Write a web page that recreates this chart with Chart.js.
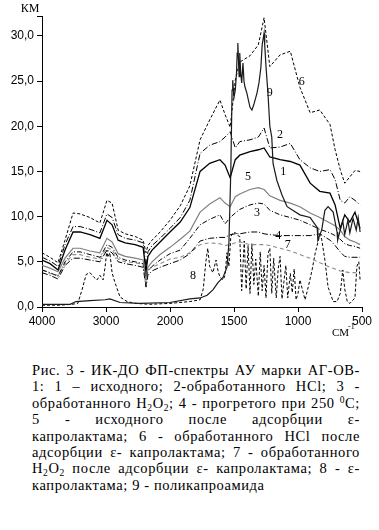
<!DOCTYPE html>
<html>
<head>
<meta charset="utf-8">
<script src="https://cdn.jsdelivr.net/npm/chart.js@4.4.0/dist/chart.umd.min.js"></script>
<style>
  body { margin: 0; background: #fff; }
  #wrap { position: relative; width: 379px; height: 530px; }
  canvas { display: block; }
  #caption {
    position: absolute; left: 32px; top: 362px; width: 328px;
    font-family: 'Liberation Serif', 'Times New Roman', serif;
    font-size: 14.5px; letter-spacing: 0.6px; color: #000;
  }
  .ln { display: flex; justify-content: space-between; height: 16.4px; line-height: 16.4px; white-space: nowrap; }
  .ln.last { display: block; }
  sub { font-size: 9.5px; line-height: 0; vertical-align: -3px; }
  sup { font-size: 9.5px; line-height: 0; vertical-align: 5px; }
</style>
</head>
<body>
<div id="wrap">
  <canvas id="spectra" width="379" height="345"></canvas>
  <div id="caption"></div>
</div>
<script>
// wavenumber grid (cm-1) shared by the smooth spectra 1-7
var wn = [4000, 3875, 3750, 3640, 3515, 3405, 3250, 3095, 2985, 2905,
  2810, 2700, 2545, 2420, 2375, 2345, 2280, 2155, 2000, 1920,
  1845, 1765, 1690, 1610, 1570, 1530, 1490, 1455, 1375, 1310,
  1265, 1220, 1140, 1060, 985, 905, 830, 750, 710, 670,
  635, 595, 555, 515];

var km1 = [5.2, 4.8, 4.1, 6.3, 8.3, 8.3, 8.0, 7.6, 9.6, 9.1,
  7.4, 7.1, 6.9, 6.6, 3.9, 5.6, 6.3, 7.2, 8.3, 9.4,
  11.0, 15.0, 15.9, 16.3, 15.7, 14.3, 16.3, 16.8, 17.2, 17.4,
  17.6, 16.6, 16.3, 16.1, 15.7, 13.7, 12.8, 12.6, 11.3, 8.7,
  10.2, 9.4, 10.5, 8.7];
var km2 = [5.5, 5.1, 4.5, 6.9, 8.9, 8.9, 8.6, 8.2, 10.3, 9.9,
  8.0, 7.6, 7.4, 7.1, 4.4, 6.1, 6.8, 7.6, 8.7, 9.9,
  11.8, 17.0, 17.9, 18.3, 18.8, 19.4, 17.6, 18.3, 18.5, 18.8,
  19.8, 17.6, 17.7, 18.1, 16.3, 15.4, 15.0, 15.2, 14.1, 11.8,
  11.5, 12.2, 11.8, 11.3];
var km3 = [4.1, 3.8, 3.4, 5.0, 6.1, 6.1, 5.8, 5.5, 6.9, 6.6,
  5.5, 5.2, 5.0, 4.8, 2.5, 4.0, 4.5, 5.2, 5.9, 6.3,
  7.6, 9.1, 9.7, 10.2, 9.2, 9.9, 10.4, 10.8, 11.3, 11.5,
  11.4, 10.7, 10.2, 9.9, 9.6, 9.1, 8.6, 8.2, 7.9, 7.5,
  7.0, 6.8, 6.7, 6.5];
var km4 = [3.8, 3.5, 3.1, 4.6, 5.4, 5.4, 5.2, 5.0, 6.3, 6.0,
  5.0, 4.8, 4.6, 4.4, 2.2, 3.5, 4.0, 4.4, 4.8, 5.2,
  5.9, 7.3, 7.6, 7.7, 7.7, 8.0, 8.1, 8.1, 8.3, 8.3,
  8.1, 8.0, 7.9, 7.9, 7.9, 7.9, 8.1, 7.4, 6.8, 6.1,
  5.6, 5.5, 5.5, 5.5];
var km5 = [4.6, 4.3, 3.9, 5.4, 6.5, 6.5, 6.2, 6.0, 7.6, 7.2,
  5.9, 5.6, 5.4, 5.2, 3.0, 4.4, 5.0, 5.8, 6.6, 7.5,
  8.4, 10.5, 11.4, 12.1, 11.5, 11.1, 12.2, 12.5, 13.0, 13.2,
  13.0, 12.3, 11.8, 11.5, 11.1, 10.4, 9.9, 9.3, 9.0, 8.5,
  7.8, 7.4, 7.2, 6.9];
var km6 = [6.0, 5.5, 4.9, 7.4, 10.4, 10.3, 9.9, 9.3, 11.8, 11.5,
  8.5, 8.1, 7.8, 7.4, 6.0, 6.8, 7.4, 8.3, 9.6, 11.2,
  13.4, 18.5, 20.7, 22.9, 21.3, 19.9, 25.1, 27.1, 27.8, 29.0,
  32.0, 26.6, 27.9, 28.3, 24.3, 21.5, 21.8, 20.2, 17.4, 15.2,
  13.7, 14.4, 15.1, 15.0];
var km7 = [4.1, 3.7, 3.5, 4.8, 5.8, 5.8, 5.5, 5.3, 6.6, 6.3,
  5.3, 5.0, 4.9, 4.7, 3.3, 4.1, 4.4, 4.8, 5.3, 5.5,
  6.0, 6.9, 7.1, 7.0, 6.8, 6.9, 7.1, 7.2, 6.9, 6.9,
  6.9, 6.8, 6.5, 6.2, 5.8, 5.4, 4.9, 4.4, 4.2, 4.0,
  3.9, 3.8, 3.8, 3.7];

// e-caprolactam (8), sharp bands
var wn8 = [4000, 3720, 3530, 3440, 3375, 3310, 3250, 3190, 3140, 3095,
  3045, 3015, 2985, 2970, 2940, 2905, 2860, 2780, 2670, 2545,
  2315, 2000, 1845, 1765, 1740, 1720, 1705, 1690, 1665, 1640,
  1625, 1610, 1585, 1570, 1555, 1540, 1525, 1510, 1485, 1470,
  1455, 1440, 1420, 1405, 1390, 1375, 1360, 1345, 1330, 1310,
  1295, 1280, 1265, 1250, 1235, 1220, 1205, 1190, 1170, 1155,
  1140, 1125, 1110, 1095, 1080, 1060, 1045, 1030, 1015, 1000,
  985, 945, 920, 890, 865, 845, 830, 815, 790, 765,
  725, 695, 670, 650, 635, 615, 595, 555, 540, 525,
  515];
var km8 = [0.2, 0.2, 0.3, 0.4, 1.9, 3.6, 3.8, 3.3, 3.0, 3.5,
  3.0, 4.4, 6.3, 5.5, 6.0, 3.8, 2.7, 1.1, 0.6, 0.4,
  0.3, 0.4, 0.6, 0.8, 2.0, 5.0, 6.5, 4.5, 3.8, 5.2,
  4.0, 3.3, 3.0, 3.5, 6.0, 4.5, 7.8, 8.2, 8.2, 7.9,
  7.8, 1.8, 7.3, 2.0, 6.8, 1.5, 7.0, 2.5, 5.3, 1.2,
  6.1, 1.8, 4.6, 1.0, 5.8, 6.5, 1.5, 5.4, 1.0, 4.2,
  5.6, 0.9, 2.8, 4.6, 1.0, 3.7, 1.6, 4.2, 0.8, 1.5,
  3.0, 0.8, 2.2, 4.1, 6.0, 7.1, 8.0, 7.5, 5.2, 2.2,
  0.6, 0.6, 1.5, 4.1, 2.0, 0.6, 0.4, 1.0, 4.5, 5.0,
  3.0];

// polycaproamide (9)
var wn9 = [4000, 3560, 3470, 3250, 3015, 2940, 2780, 2470, 2000, 1845,
  1765, 1710, 1665, 1625, 1585, 1555, 1540, 1525, 1515, 1510,
  1500, 1490, 1480, 1475, 1470, 1460, 1455, 1448, 1440, 1430,
  1422, 1415, 1400, 1375, 1360, 1345, 1320, 1305, 1290, 1280,
  1265, 1260, 1250, 1235, 1220, 1205, 1195, 1165, 1125, 1085,
  985, 905, 850, 845, 815, 790, 765, 725, 695, 690,
  670, 650, 635, 610, 595, 570, 545, 530, 515];
var km9 = [0.3, 0.3, 0.6, 0.7, 0.8, 0.9, 0.5, 0.4, 0.5, 0.9,
  1.0, 1.3, 1.9, 2.7, 3.3, 4.4, 7.0, 15.0, 24.0, 25.1,
  23.2, 24.0, 26.0, 28.1, 29.2, 25.5, 28.1, 26.0, 24.8, 27.0,
  25.0, 24.4, 23.7, 22.1, 21.8, 22.4, 23.7, 24.8, 26.5, 29.0,
  30.3, 29.0, 26.6, 23.7, 20.0, 18.8, 15.9, 14.0, 12.4, 11.1,
  10.2, 9.9, 8.8, 7.4, 8.5, 10.7, 11.1, 10.5, 8.3, 7.4,
  8.5, 9.5, 8.0, 9.6, 8.2, 9.8, 8.5, 9.9, 8.3];

var xTicks = [4000, 3000, 2000, 1500, 1000, 500];
var yTicks = [0, 5, 10, 15, 20, 25, 30];

// curve numbers written on the plot
var curveNames = ['9', '6', '2', '1', '5', '3', '4', '7', '8'];
var nameWn = [1220, 970, 1140, 1115, 1390, 1320, 1155, 1080, 1820];
var nameKm = [23.7, 24.9, 19.0, 15.0, 14.4, 10.4, 7.9, 6.9, 3.5];

var captionLines = [
  'Рис. 3 - ИК-ДО ФП-спектры АУ марки АГ-ОВ-',
  '1: 1 – исходного; 2-обработанного HCl; 3 -',
  'обработанного H<sub>2</sub>O<sub>2</sub>; 4 - прогретого при 250 <sup>0</sup>С;',
  '5 - исходного после адсорбции ε-',
  'капролактама; 6 - обработанного HCl после',
  'адсорбции ε- капролактама; 7 - обработанного',
  'H<sub>2</sub>O<sub>2</sub> после адсорбции ε- капролактама; 8 - ε-',
  'капролактама; 9 - поликапроамида'
];

// the instrument scale is twice as stretched below 2000 cm-1
function toU(w) {
  return w >= 2000 ? (4000 - w) / 1000 : 2 + (2000 - w) / 500;
}
function fromU(u) {
  return u <= 2 ? 4000 - 1000 * u : 2000 - 500 * (u - 2);
}

function points(xs, ys) {
  var out = [];
  for (var i = 0; i < xs.length; i++) {
    out.push({ x: toU(xs[i]), y: ys[i] });
  }
  return out;
}

function line(xs, ys, color, dash, width) {
  return {
    data: points(xs, ys),
    borderColor: color,
    borderDash: dash,
    borderWidth: width,
    pointRadius: 0,
    tension: 0,
    fill: false
  };
}

var textPlugin = {
  id: 'texts',
  afterDatasetsDraw: function(chart) {
    var c = chart.ctx;
    var sx = chart.scales.x, sy = chart.scales.y;
    c.save();
    c.fillStyle = '#000';
    c.font = '12px "Liberation Serif"';
    c.textAlign = 'center';
    c.textBaseline = 'middle';
    for (var i = 0; i < curveNames.length; i++) {
      c.fillText(curveNames[i], sx.getPixelForValue(toU(nameWn[i])), sy.getPixelForValue(nameKm[i]));
    }
    c.textBaseline = 'alphabetic';
    c.font = '12px "Liberation Serif"';
    c.fillText('КМ', 30, 12);
    c.textAlign = 'left';
    c.font = '11px "Liberation Serif"';
    c.fillText('СМ', 332, 336);
    c.font = '8px "Liberation Serif"';
    c.fillText('-1', 348, 329);
    c.restore();
  }
};

new Chart(document.getElementById('spectra'), {
  type: 'line',
  data: {
    datasets: [
      line(wn9, km9, '#1a1a1a', [], 1.2),
      line(wn, km1, '#000', [], 1.3),
      line(wn, km2, '#000', [6, 2, 1, 2], 1),
      line(wn, km6, '#000', [3, 2], 1),
      line(wn, km5, '#808080', [], 1.2),
      line(wn, km3, '#000', [5, 2, 1, 2], 1),
      line(wn, km4, '#000', [6, 2, 1, 2], 1),
      line(wn, km7, '#8c8c8c', [4, 3], 1.1),
      line(wn8, km8, '#000', [3, 2], 1)
    ]
  },
  options: {
    responsive: false,
    animation: false,
    devicePixelRatio: 1,
    layout: { padding: { top: 16, right: 17, left: 0, bottom: 0 } },
    plugins: { legend: { display: false }, tooltip: { enabled: false } },
    scales: {
      x: {
        type: 'linear', min: 0, max: 5,
        afterBuildTicks: function(axis) {
          axis.ticks = xTicks.map(function(w) { return { value: toU(w) }; });
        },
        afterFit: function(axis) { axis.height = 38; },
        ticks: {
          autoSkip: false, maxRotation: 0, padding: 2, color: '#000',
          font: { family: 'Liberation Sans', size: 12 },
          callback: function(v) { return String(Math.round(fromU(v))); }
        },
        grid: { drawOnChartArea: false, drawTicks: true, tickLength: 5, color: '#000' },
        border: { display: true, color: '#000', width: 1 }
      },
      y: {
        min: 0, max: 32.2,
        afterBuildTicks: function(axis) {
          axis.ticks = yTicks.concat([32.2]).map(function(v) { return { value: v }; });
        },
        afterFit: function(axis) { axis.width = 42; },
        ticks: {
          padding: 3, color: '#000',
          font: { family: 'Liberation Sans', size: 12 },
          callback: function(v) { return v > 30 ? '' : v.toFixed(1).replace('.', ','); }
        },
        grid: { drawOnChartArea: false, drawTicks: true, tickLength: 5, color: '#000' },
        border: { display: true, color: '#000', width: 1 }
      }
    }
  },
  plugins: [textPlugin]
});

// caption, each line stretched to the full width except the last
var cap = document.getElementById('caption');
for (var i = 0; i < captionLines.length; i++) {
  var div = document.createElement('div');
  if (i === captionLines.length - 1) {
    div.className = 'ln last';
    div.innerHTML = captionLines[i];
  } else {
    div.className = 'ln';
    var words = captionLines[i].split(' ');
    for (var j = 0; j < words.length; j++) {
      var s = document.createElement('span');
      s.innerHTML = words[j];
      div.appendChild(s);
    }
  }
  cap.appendChild(div);
}
</script>
</body>
</html>
